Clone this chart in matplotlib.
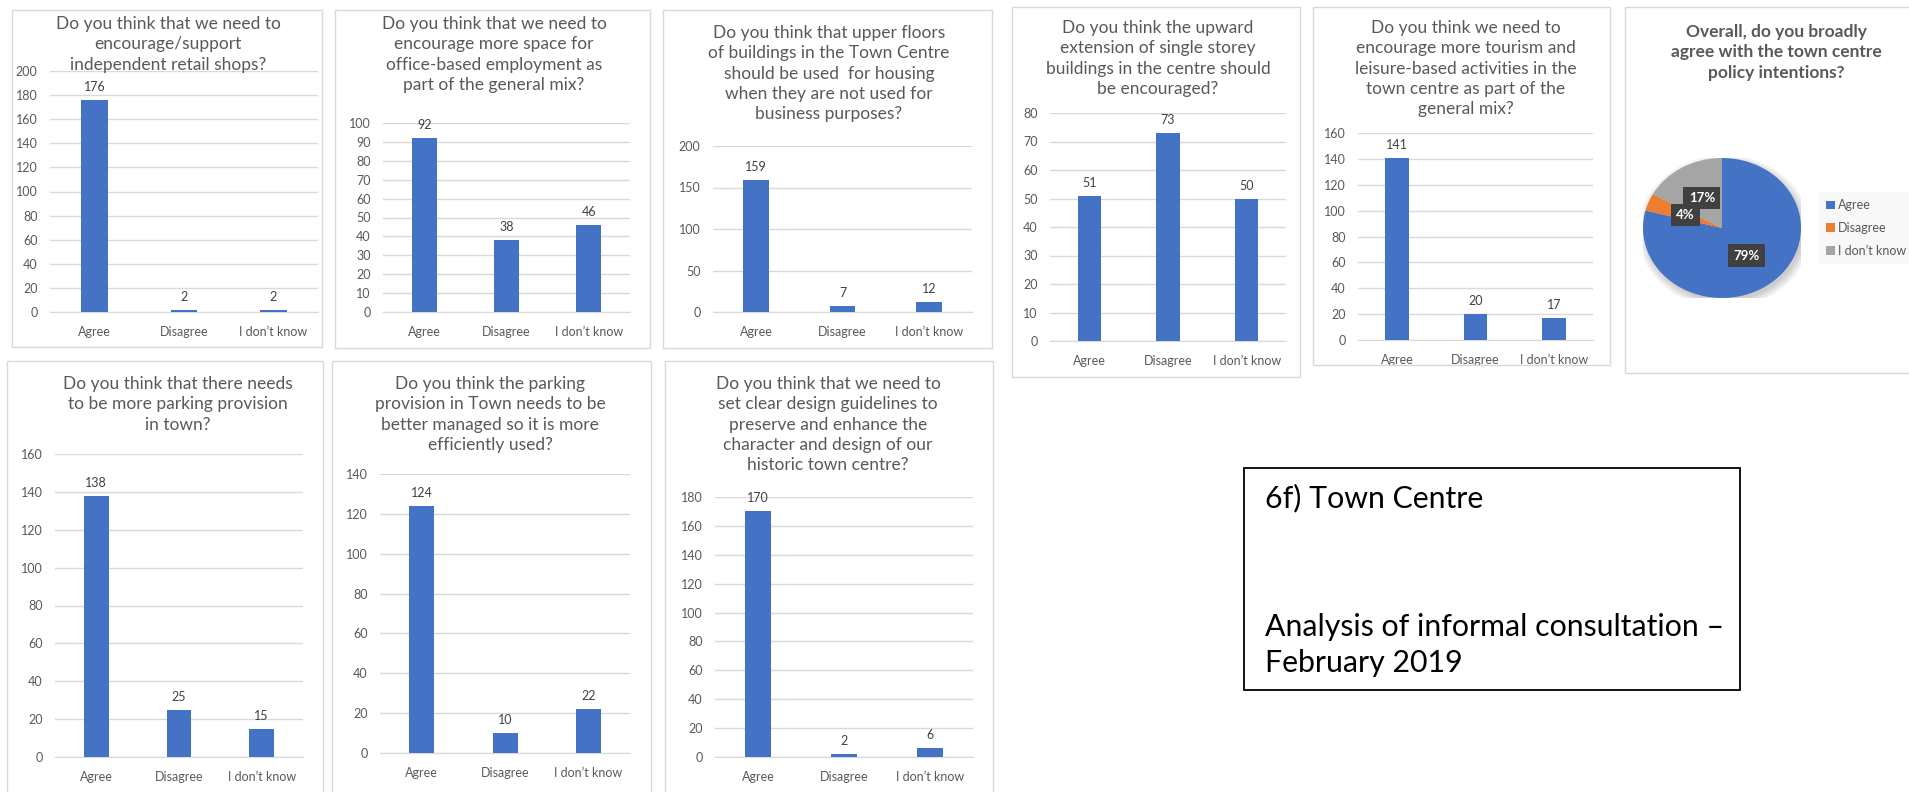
import matplotlib
matplotlib.use("Agg")
import matplotlib.pyplot as plt
from matplotlib.patches import Rectangle, Ellipse

plt.rcParams['font.family'] = ['Lato', 'DejaVu Sans']

# ---------------- data ----------------
categories = ["Agree", "Disagree", "I don\u2019t know"]

q1_title = "Do you think that we need to\nencourage/support\nindependent retail shops?"
q1_values = [176, 2, 2]
q1_ticks = [0, 20, 40, 60, 80, 100, 120, 140, 160, 180, 200]

q2_title = "Do you think that we need to\nencourage more space for\noffice-based employment as\npart of the general mix?"
q2_values = [92, 38, 46]
q2_ticks = [0, 10, 20, 30, 40, 50, 60, 70, 80, 90, 100]

q3_title = ("Do you think that upper floors\nof buildings in the Town Centre\n"
            "should be used  for housing\nwhen they are not used for\nbusiness purposes?")
q3_values = [159, 7, 12]
q3_ticks = [0, 50, 100, 150, 200]

q4_title = ("Do you think the upward\nextension of single storey\n"
            "buildings in the centre should\nbe encouraged?")
q4_values = [51, 73, 50]
q4_ticks = [0, 10, 20, 30, 40, 50, 60, 70, 80]

q5_title = ("Do you think we need to\nencourage more tourism and\n"
            "leisure-based activities in the\ntown centre as part of the\ngeneral mix?")
q5_values = [141, 20, 17]
q5_ticks = [0, 20, 40, 60, 80, 100, 120, 140, 160]

q6_title = "Overall, do you broadly\nagree with the town centre\npolicy intentions?"
q6_shares = [79, 4, 17]

q7_title = "Do you think that there needs\nto be more parking provision\nin town?"
q7_values = [138, 25, 15]
q7_ticks = [0, 20, 40, 60, 80, 100, 120, 140, 160]

q8_title = ("Do you think the parking\nprovision in Town needs to be\n"
            "better managed so it is more\nefficiently used?")
q8_values = [124, 10, 22]
q8_ticks = [0, 20, 40, 60, 80, 100, 120, 140]

q9_title = ("Do you think that we need to\nset clear design guidelines to\n"
            "preserve and enhance the\ncharacter and design of our\nhistoric town centre?")
q9_values = [170, 2, 6]
q9_ticks = [0, 20, 40, 60, 80, 100, 120, 140, 160, 180]

box_heading = "6f) Town Centre"
box_line1 = "Analysis of informal consultation \u2013"
box_line2 = "February 2019"

# ---------------- layout ----------------
W, H = 1909, 792
fig = plt.figure(figsize=(W / 100, H / 100), dpi=100)
fig.patch.set_facecolor("white")

BAR = "#4472C4"
GRID = "#d9d9d9"
TXT = "#595959"
LBL = "#404040"


def rect(x0, y0, x1, y1):
    return [x0 / W, 1 - y1 / H, (x1 - x0) / W, (y1 - y0) / H]


def frame(x0, y0, x1, y1, color=GRID, lw=1.0):
    fig.add_artist(Rectangle((x0 / W, 1 - y1 / H), (x1 - x0) / W, (y1 - y0) / H,
                             transform=fig.transFigure, fill=False,
                             edgecolor=color, lw=lw))


def title(text, cx, y_first, bold=False, size=12.5):
    for i, ln in enumerate(text.split("\n")):
        fig.text(cx / W, 1 - (y_first + i * 20.3) / H, ln, ha="center", va="center",
                 color=TXT, fontsize=size, fontweight="bold" if bold else "normal")


def bar_panel(fr, plot, ttl, ttl_cx, ttl_y, values, ticks):
    frame(*fr)
    title(ttl, ttl_cx, ttl_y)
    x0, ytop, x1, ybot = plot
    ax = fig.add_axes(rect(x0, ytop, x1, ybot))
    xs = range(len(categories))
    bars = ax.bar(xs, values, width=0.3, color=BAR, zorder=3)
    ax.set_xlim(-0.5, len(categories) - 0.5)
    ax.set_ylim(ticks[0], ticks[-1])
    ax.set_yticks(ticks)
    ax.set_xticks(list(xs))
    ax.set_xticklabels(categories)
    ax.grid(axis="y", color=GRID, lw=1.0, zorder=0)
    for s in ["top", "right", "left"]:
        ax.spines[s].set_visible(False)
    ax.spines["bottom"].set_color(GRID)
    ax.tick_params(axis="both", length=0, colors=TXT, labelsize=9)
    ax.tick_params(axis="y", pad=9)
    ax.tick_params(axis="x", pad=10)
    ax.patch.set_alpha(0)
    for b, v in zip(bars, values):
        ax.annotate(str(v), (b.get_x() + b.get_width() / 2, v), xytext=(0, 5),
                    textcoords="offset points", ha="center", va="bottom",
                    fontsize=9, color=LBL)
    return ax


bar_panel((12, 10, 322, 347), (50, 71, 318, 312), q1_title, 168, 24, q1_values, q1_ticks)
bar_panel((335, 10, 650, 348), (383, 123, 630, 312), q2_title, 494, 24, q2_values, q2_ticks)
bar_panel((663, 10, 992, 348), (713, 146, 972, 312), q3_title, 829, 33, q3_values, q3_ticks)
bar_panel((1012, 7, 1300, 377), (1050, 113, 1286, 341), q4_title, 1158, 28, q4_values, q4_ticks)
bar_panel((1313, 7, 1610, 365), (1358, 133, 1593, 340), q5_title, 1466, 28, q5_values, q5_ticks)
bar_panel((7, 361, 323, 820), (55, 454, 303, 757), q7_title, 178, 384, q7_values, q7_ticks)
bar_panel((332, 361, 651, 820), (380, 474, 630, 753), q8_title, 490, 384, q8_values, q8_ticks)
bar_panel((665, 361, 993, 820), (715, 497, 973, 757), q9_title, 828, 384, q9_values, q9_ticks)

# ---------------- pie panel ----------------
frame(1625, 7, 1960, 373)
title(q6_title, 1776, 32, bold=True)
pax = fig.add_axes(rect(1643, 158, 1801, 298))
pie_colors = ["#4472C4", "#ED7D31", "#A5A5A5"]
for k in range(4):
    pax.add_patch(Ellipse((0.03, -0.05), 2.0 + 0.06 * k, 2.0 + 0.06 * k,
                          color="black", alpha=0.05, lw=0, zorder=0))
wedges, texts, autotexts = pax.pie(q6_shares, colors=pie_colors, startangle=90,
                                   counterclock=False, autopct="%1.0f%%",
                                   pctdistance=0.5, wedgeprops=dict(lw=0))
for w in wedges:
    w.set_zorder(2)
for t in autotexts:
    t.set_color("white")
    t.set_fontweight("bold")
    t.set_fontsize(9.5)
    t.set_zorder(5)
    t.set_bbox(dict(boxstyle="square,pad=0.4", facecolor="#404040", edgecolor="none"))
pax.set_aspect("auto")
pax.set_xlim(-1, 1)
pax.set_ylim(-1, 1)
pax.axis("off")

leg = fig.legend(wedges, categories, loc="center left",
                 bbox_to_anchor=(1812 / W, 1 - 228 / H), frameon=True,
                 fontsize=9, handlelength=0.7, handleheight=0.7, handletextpad=0.3,
                 labelspacing=0.85, borderpad=0.6, labelcolor=TXT)
leg.get_frame().set_facecolor("#f7f7f7")
leg.get_frame().set_edgecolor("none")

# ---------------- text box ----------------
frame(1244, 468, 1740, 690, color="black", lw=1.3)
fig.text(1265 / W, 1 - 498 / H, box_heading, ha="left", va="center", fontsize=21.8, color="black")
fig.text(1265 / W, 1 - 627 / H, box_line1, ha="left", va="center", fontsize=21.8, color="black")
fig.text(1265 / W, 1 - 663 / H, box_line2, ha="left", va="center", fontsize=21.8, color="black")

fig.savefig("out.png", dpi=100, facecolor="white")
